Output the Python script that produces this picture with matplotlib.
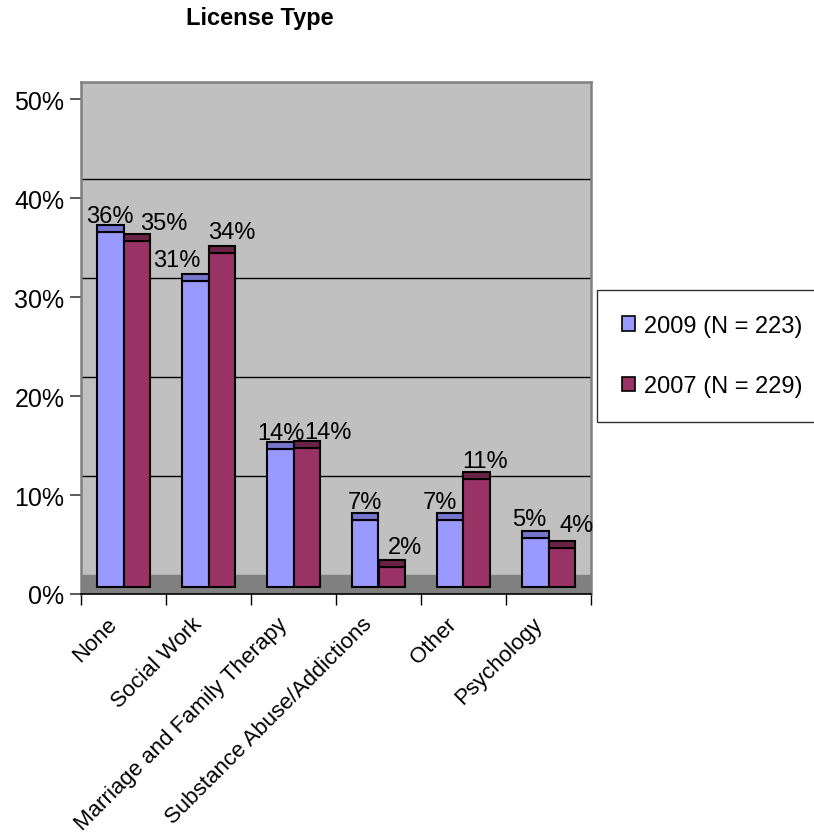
import matplotlib
matplotlib.use('Agg')
import matplotlib.pyplot as plt
import matplotlib.transforms as mtransforms
from matplotlib.patches import Patch
import numpy as np

plt.rcParams['font.family'] = ['Liberation Sans', 'DejaVu Sans']

categories = ['None', 'Social Work', 'Marriage and Family Therapy',
              'Substance Abuse/Addictions', 'Other', 'Psychology']
vals_2009 = [35.9, 30.9, 13.9, 6.8, 6.8, 4.9]
vals_2007 = [34.9, 33.7, 14.0, 2.0, 10.9, 3.9]
series_names = ['2009 (N = 223)', '2007 (N = 229)']
yticks = [0, 10, 20, 30, 40, 50]

# label nudges in pixels (excel puts them a bit off centre)
dx_2009 = [0, -18, 1, 0, -10, -6]
dx_2007 = [27, 10, 21, 13, 8, 15]
dy_2009 = [2, 7, 2, 4, 4, 5]
dy_2007 = [4, 7, 2, 6, 4, 9]

front = ['#9999FF', '#993366']
cap = ['#7575CC', '#6B2447']

W, H = 814, 837
fig = plt.figure(figsize=(W / 100, H / 100), dpi=100)
ax = fig.add_axes([81 / W, (H - 595) / H, 510 / W, 512 / H])

depth = 0.71     # front face offset / bar depth
floor = 1.92     # back wall offset
ax.set_ylim(0, 51.72)
ax.set_xlim(-0.5, 5.5)
ax.set_facecolor('#C0C0C0')
ax.axhspan(0, floor, color='#808080', zorder=0)
for k in range(1, 5):
    ax.axhline(floor + 10 * k, color='black', lw=1, zorder=1)

x = np.arange(len(categories))
bw = 0.315
for i, (vals, dxs, dys) in enumerate([(vals_2009, dx_2009, dy_2009),
                                      (vals_2007, dx_2007, dy_2007)]):
    xs = x + (i - 0.5) * bw
    ax.bar(xs, vals, bw, bottom=depth, color=front[i], edgecolor='black',
           lw=1.5, zorder=3)
    ax.bar(xs, depth, bw, bottom=np.array(vals) + depth, color=cap[i],
           edgecolor='black', lw=1.5, zorder=3)
    for xx, v, ddx, ddy in zip(xs, vals, dxs, dys):
        off = mtransforms.offset_copy(ax.transData, fig=fig, x=ddx, y=ddy + 1,
                                      units='dots')
        ax.text(xx, v + 2 * depth, f'{v:.0f}%', transform=off, ha='center',
                va='baseline', fontsize=17, zorder=4)

ax.set_yticks(yticks)
ax.set_yticklabels([f'{t}%' for t in yticks], fontsize=18)
ax.tick_params(axis='y', length=8, width=1.2, pad=4, color='#404040')

ax.set_xticks(np.arange(-0.5, 6, 1))
ax.set_xticklabels([])
ax.tick_params(axis='x', which='major', length=8, width=1, color='black')
ax.set_xticks(x, minor=True)
ax.set_xticklabels(categories, minor=True, rotation=45, ha='right',
                   va='top', rotation_mode='anchor', fontsize=16)
ax.tick_params(axis='x', which='minor', length=0, pad=0)
shift = mtransforms.ScaledTranslation(-17 / 100, -19 / 100, fig.dpi_scale_trans)
for lab in ax.get_xticklabels(minor=True):
    lab.set_transform(lab.get_transform() + shift)

for s in ['left', 'top', 'right']:
    ax.spines[s].set_color('#808080')
    ax.spines[s].set_linewidth(1.8)
ax.spines['bottom'].set_color('black')
ax.spines['bottom'].set_linewidth(1.2)

fig.text(260 / W, 1 - 19 / H, 'License Type', fontsize=17, fontweight='bold',
         ha='center', va='center')

handles = [Patch(facecolor=front[0], edgecolor='black', lw=1.2),
           Patch(facecolor=front[1], edgecolor='black', lw=1.2)]
leg = fig.legend(handles, series_names, loc='upper left',
                 bbox_to_anchor=(597 / W, 1 - 291 / H), borderaxespad=0,
                 fontsize=17, handlelength=0.55, handleheight=0.55,
                 handletextpad=0.4, borderpad=1.05, labelspacing=1.62,
                 fancybox=False, frameon=True)
leg.get_frame().set_edgecolor('black')
leg.get_frame().set_linewidth(1.0)

fig.savefig('out.png', dpi=100)
